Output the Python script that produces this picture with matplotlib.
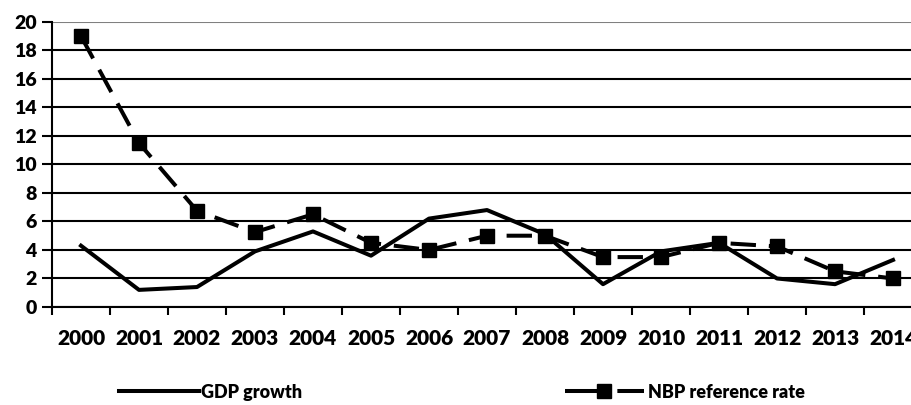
import matplotlib
matplotlib.use('Agg')
from matplotlib import pyplot as plt
from matplotlib.lines import Line2D

years = ['2000', '2001', '2002', '2003', '2004', '2005', '2006', '2007',
         '2008', '2009', '2010', '2011', '2012', '2013', '2014']
gdp_growth = [4.3, 1.2, 1.4, 3.9, 5.3, 3.6, 6.2, 6.8, 5.1, 1.6, 3.9, 4.5, 2.0, 1.6, 3.3]
nbp_rate = [19.0, 11.5, 6.75, 5.25, 6.5, 4.5, 4.0, 5.0, 5.0, 3.5, 3.5, 4.5, 4.25, 2.5, 2.0]

plt.rcParams['font.family'] = ['Lato', 'DejaVu Sans']
plt.rcParams['font.weight'] = 'heavy'

fig = plt.figure(figsize=(9.12, 4.05), dpi=100)
ax = fig.add_axes([0.057, 0.242, 0.954, 0.704])

LW = 2.9
DASH = (6.3, 3.2)
x = list(range(len(years)))
ax.plot(x, gdp_growth, color='black', lw=LW, solid_joinstyle='round', zorder=3)
ax.plot(x, nbp_rate, color='black', lw=LW, dashes=DASH, marker='s',
        markersize=10, zorder=4)

ax.set_xlim(-0.5, len(years) - 0.5)
ax.set_ylim(0, 20)
ax.set_yticks(range(0, 21, 2))
ax.set_xticks(x)
ax.set_xticklabels(years, fontsize=15, fontweight='heavy')
ax.set_xticks([i - 0.5 for i in range(len(years) + 1)], minor=True)
ax.tick_params(axis='x', which='major', length=0, pad=16)
ax.tick_params(axis='x', which='minor', length=6, width=1.5, direction='out')
ax.tick_params(axis='y', length=7, width=1.5, labelsize=14, pad=4)
for lbl in ax.get_yticklabels():
    lbl.set_fontweight('heavy')

ax.grid(axis='y', color='black', lw=1.5)
ax.get_ygridlines()[-1].set_color('#808080')
ax.set_axisbelow(True)
for s in ['top', 'right']:
    ax.spines[s].set_visible(False)
ax.spines['left'].set_linewidth(1.5)
ax.spines['bottom'].set_linewidth(1.5)

h1 = Line2D([], [], color='black', lw=LW)
h2 = Line2D([], [], color='black', lw=LW, linestyle=(0, (8.5, 4.5)), marker='s', markersize=10)
fig.legend([h1], ['GDP growth'], loc='center left', bbox_to_anchor=(0.131, 0.032),
           frameon=False, fontsize=13, handlelength=4.4, handletextpad=0.1,
           borderpad=0, borderaxespad=0)
fig.legend([h2], ['NBP reference rate'], loc='center left', bbox_to_anchor=(0.619, 0.032),
           frameon=False, fontsize=13, handlelength=4.4, handletextpad=0.2,
           borderpad=0, borderaxespad=0)

fig.savefig('out.png', dpi=100)
